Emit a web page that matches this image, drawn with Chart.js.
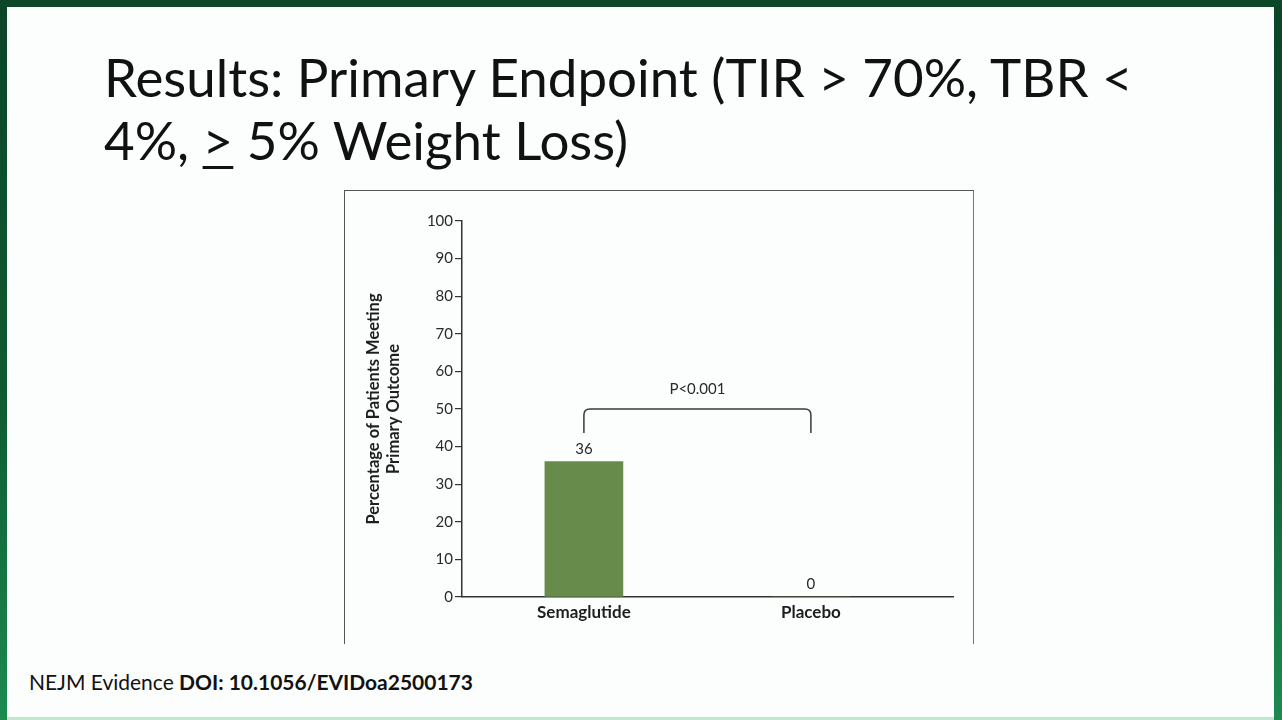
<!DOCTYPE html>
<html>
<head>
<meta charset="utf-8">
<script src="https://cdn.jsdelivr.net/npm/chart.js@4.4.1/dist/chart.umd.min.js"></script>
<style>
  html, body { margin:0; padding:0; }
  body { width:1282px; height:720px; position:relative; overflow:hidden;
         background: linear-gradient(to bottom, #0b4526 0%, #0f5a33 55%, #1d8a50 100%); font-family: Lato, "Liberation Sans", sans-serif; }
  #top { position:absolute; left:0; top:0; width:1282px; height:7px; background:#0c4729; }
  #slide { position:absolute; left:7px; top:7px; width:1267px; height:710px; background:#fcfdfd; }
  #bottom { position:absolute; left:7px; top:717px; width:1267px; height:3px; background:#bfe8cf; }
  .tl { position:absolute; left:104px; white-space:nowrap; color:#111; line-height:1; font-weight:400; }
  #foot { position:absolute; left:29px; white-space:nowrap; color:#111; line-height:1; }
  #fig { position:absolute; left:344px; top:190px; width:630px; height:454px;
         border-top:1.5px solid #555; border-left:1.5px solid #555; border-right:1.5px solid #777; box-sizing:border-box; }
  #wrap { position:absolute; left:345px; top:191px; width:626px; height:452px; }
</style>
</head>
<body>
<div id="top"></div>
<div id="slide"></div>
<div id="bottom"></div>
<div id="t1" class="tl">Results: Primary Endpoint (TIR &gt; 70%, TBR &lt;</div>
<div id="t2" class="tl">4%, <span style="text-decoration:underline;text-decoration-thickness:3px;text-underline-offset:6px">&gt;</span> 5% Weight Loss)</div>
<div id="foot">NEJM Evidence <b>DOI: 10.1056/EVIDoa2500173</b></div>
<div id="fig"></div>
<div id="wrap"><canvas id="c" width="626" height="452"></canvas></div>
<script>
// ---- data ----
const categories = ['Semaglutide', 'Placebo'];
const values = [36, 0];
const yTickValues = [0, 10, 20, 30, 40, 50, 60, 70, 80, 90, 100];
const yAxisTitle = ['Percentage of Patients Meeting', 'Primary Outcome'];
const pValueText = 'P<0.001';
const bracketLevel = 50;

// ---- fit text widths ----
function fitWidth(el, target, baselineY) {
  el.style.fontSize = '100px';
  const w = el.getBoundingClientRect().width;
  const size = 100 * target / w;
  el.style.fontSize = size + 'px';
  el.style.top = (baselineY - 0.887 * size) + 'px';
  return size;
}
const s1 = fitWidth(document.getElementById('t1'), 1029, 98);
const t2 = document.getElementById('t2');
t2.style.fontSize = s1 + 'px';
t2.style.top = (161 - 0.887 * s1) + 'px';
fitWidth(document.getElementById('foot'), 444, 691);

// ---- chart ----
const FONT = 'Lato';
const valueLabels = {
  id: 'valueLabels',
  afterDatasetsDraw(chart) {
    const ctx = chart.ctx;
    const meta = chart.getDatasetMeta(0);
    ctx.save();
    ctx.font = '15px ' + FONT;
    ctx.fillStyle = '#2a2a2a';
    ctx.textAlign = 'center';
    ctx.textBaseline = 'middle';
    meta.data.forEach((bar, i) => {
      ctx.fillText(String(values[i]), bar.x, bar.y - 12.5);
    });
    ctx.restore();
  }
};
const bracket = {
  id: 'bracket',
  afterDatasetsDraw(chart) {
    const ctx = chart.ctx;
    const xs = chart.scales.x, ys = chart.scales.y;
    const x0 = xs.getPixelForValue(0), x1 = xs.getPixelForValue(1);
    const yt = ys.getPixelForValue(bracketLevel);
    const yb = yt + 24, r = 6;
    ctx.save();
    ctx.strokeStyle = '#3a3a3a';
    ctx.lineWidth = 1.5;
    ctx.beginPath();
    ctx.moveTo(x0, yb);
    ctx.lineTo(x0, yt + r);
    ctx.quadraticCurveTo(x0, yt, x0 + r, yt);
    ctx.lineTo(x1 - r, yt);
    ctx.quadraticCurveTo(x1, yt, x1, yt + r);
    ctx.lineTo(x1, yb);
    ctx.stroke();
    ctx.font = '15px ' + FONT;
    ctx.fillStyle = '#2a2a2a';
    ctx.textAlign = 'center';
    ctx.textBaseline = 'middle';
    ctx.fillText(pValueText, (x0 + x1) / 2, yt - 20);
    ctx.restore();
  }
};

new Chart(document.getElementById('c'), {
  type: 'bar',
  data: {
    datasets: [{
      data: values.map((v, i) => ({ x: i, y: v })),
      backgroundColor: '#678b4a',
      borderWidth: 0,
      barThickness: 78
    }]
  },
  options: {
    responsive: false,
    animation: false,
    devicePixelRatio: 1,
    layout: { padding: { top: 30, right: 18, left: 0, bottom: 0 } },
    plugins: { legend: { display: false }, tooltip: { enabled: false } },
    scales: {
      x: {
        type: 'linear',
        min: -0.537,
        max: 1.626,
        offset: false,
        afterBuildTicks(axis) { axis.ticks = categories.map((c, i) => ({ value: i })); },
        afterFit(scale) { scale.height = 46; },
        ticks: {
          callback: (v) => categories[v],
          font: { family: FONT, weight: 'bold', size: 17 },
          color: '#1e1e1e',
          padding: 5,
          maxRotation: 0
        },
        grid: { display: true, drawOnChartArea: false, drawTicks: false },
        border: { display: true, color: '#333', width: 1.5 }
      },
      y: {
        min: 0,
        max: 100,
        afterBuildTicks(axis) { axis.ticks = yTickValues.map(v => ({ value: v })); },
        afterFit(scale) { scale.width = 117; },
        ticks: {
          font: { family: FONT, size: 15 },
          color: '#2a2a2a',
          padding: 2
        },
        grid: { drawOnChartArea: false, drawTicks: true, tickLength: 7, color: '#333', lineWidth: 1.2 },
        border: { display: true, color: '#333', width: 1.5 },
        title: {
          display: true,
          text: yAxisTitle,
          font: { family: FONT, weight: 'bold', size: 16.5, lineHeight: 1.21 },
          color: '#1e1e1e',
          padding: { top: 19, bottom: 0 }
        }
      }
    }
  },
  plugins: [valueLabels, bracket]
});
</script>
</body>
</html>
